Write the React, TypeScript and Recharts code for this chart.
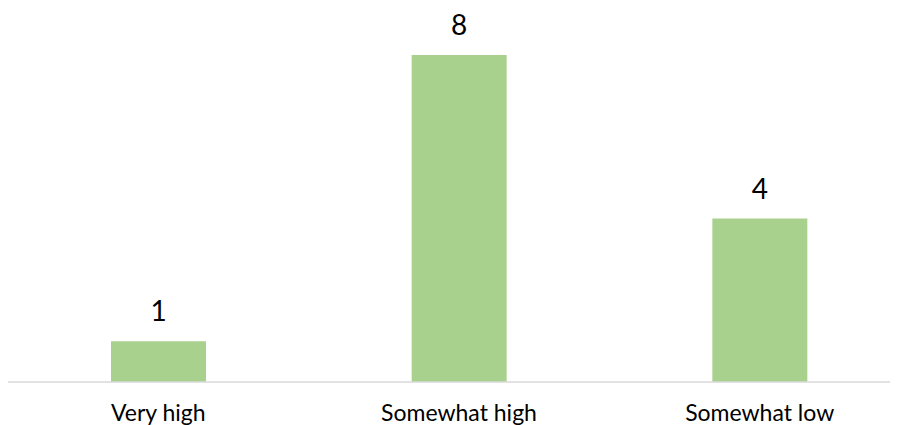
import { BarChart, Bar, XAxis, YAxis, LabelList } from 'recharts'

const categories = ['Very high', 'Somewhat high', 'Somewhat low']
const counts = [1, 8, 4]

const data = categories.map((name, i) => ({ name, count: counts[i] }))

export default function App() {
  return (
    <div style={{ width: 890, height: 417, overflow: 'hidden' }}>
      <BarChart
        width={902}
        height={417}
        data={data}
        margin={{ top: 47, right: 0, bottom: 0, left: 0 }}
        style={{ fontFamily: 'Lato, sans-serif' }}
      >
        <XAxis
          dataKey="name"
          height={43}
          tickLine={false}
          tickSize={0}
          tickMargin={23}
          axisLine={{ stroke: '#d9d9d9', strokeWidth: 1.5 }}
          tick={{ fill: '#000', fontSize: 23 }}
          interval={0}
        />
        <YAxis hide domain={[0, 8]} />
        <Bar dataKey="count" fill="#a9d18e" barSize={95} isAnimationActive={false}>
          <LabelList dataKey="count" position="top" offset={20} fill="#000" fontSize={28} />
        </Bar>
      </BarChart>
    </div>
  )
}
